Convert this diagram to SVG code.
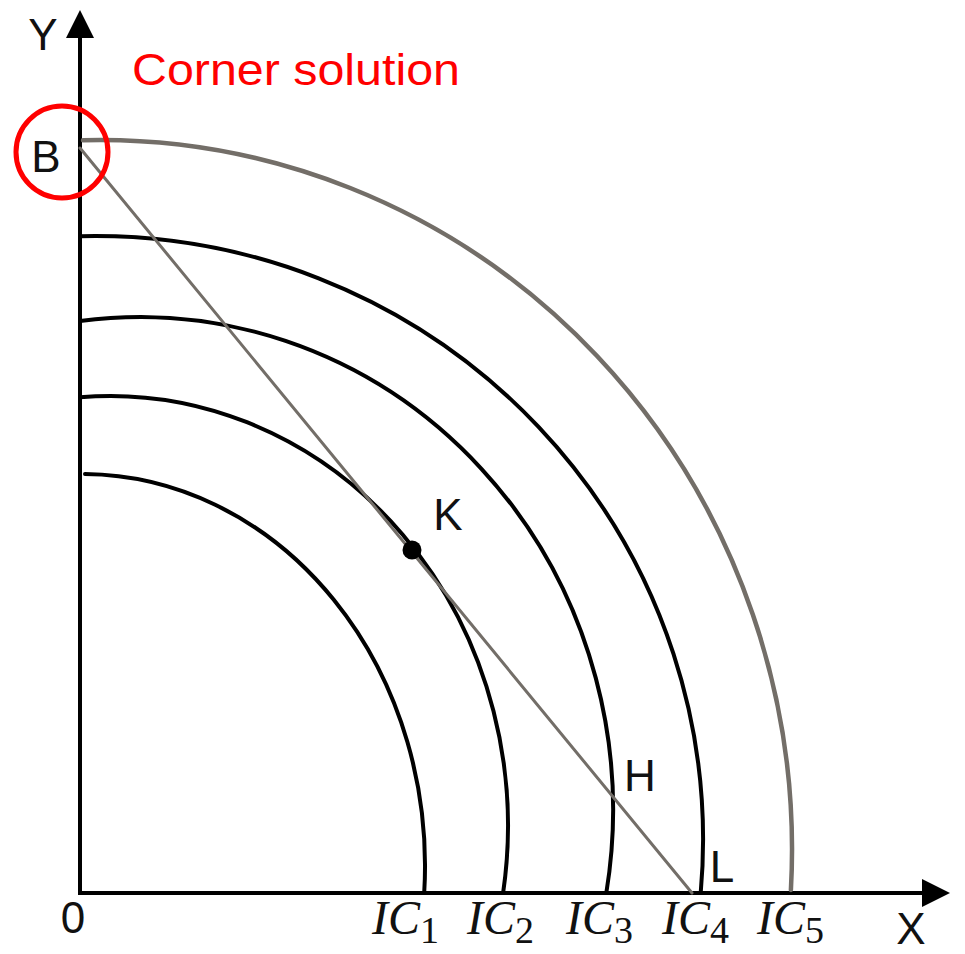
<svg xmlns="http://www.w3.org/2000/svg" width="965" height="954" viewBox="0 0 965 954">
  <style>
    .lbl { font-family: "Liberation Sans", Arial, sans-serif; font-size: 44px; fill: #111; }
    .ic { fill: none; stroke: #000; stroke-width: 4; stroke-linecap: round; }
    .gray { fill: none; stroke: #736e68; stroke-linecap: round; }
    .icl { font-family: "Liberation Serif", "Times New Roman", serif; font-size: 48px; font-style: italic; fill: #111; }
    .sub { font-style: normal; font-size: 38px; }
    .axis { stroke: #000; stroke-width: 4; fill: none; }
  </style>
  <rect width="965" height="954" fill="#fff"/>

  <g id="axes">
    <line class="axis" x1="80" y1="893" x2="80" y2="36"/>
    <polygon points="66,38 94,38 80,10" fill="#000"/>
    <line class="axis" x1="78" y1="893" x2="924" y2="893"/>
    <polygon points="922,879 922,907 950,893" fill="#000"/>
    <text class="lbl" x="43" y="50" text-anchor="middle">Y</text>
    <text class="lbl" x="911" y="944" text-anchor="middle">X</text>
    <text class="lbl" x="73" y="933" text-anchor="middle">0</text>
  </g>

  <g id="IC1">
    <path class="ic" d="M85,474 A343,392 0 0 1 424.2,893"/>
    <text class="icl" x="372" y="934">IC<tspan class="sub" dy="9">1</tspan></text>
  </g>
  <g id="IC2">
    <path class="ic" d="M80,397.2 A398,430 0 0 1 503.1,893"/>
    <text class="icl" x="467" y="934">IC<tspan class="sub" dy="9">2</tspan></text>
  </g>
  <g id="IC3">
    <path class="ic" d="M80,321 A473,493 0 0 1 606.3,893"/>
    <text class="icl" x="566" y="934">IC<tspan class="sub" dy="9">3</tspan></text>
  </g>
  <g id="IC4">
    <path class="ic" d="M80,236.2 A608,604 0 0 1 700.7,893"/>
    <text class="icl" x="662" y="934">IC<tspan class="sub" dy="9">4</tspan></text>
  </g>
  <g id="IC5">
    <path class="gray" stroke-width="4.5" d="M83,140.2 A692,710 0 0 1 790.9,890"/>
    <text class="icl" x="757" y="934">IC<tspan class="sub" dy="9">5</tspan></text>
  </g>

  <g id="connectors">
    <line id="budget-line" class="gray" stroke-width="3" x1="80" y1="148" x2="692" y2="893"/>
  </g>

  <g id="B">
    <text class="lbl" x="46" y="172" text-anchor="middle">B</text>
    <circle cx="62" cy="152" r="46" fill="none" stroke="#ff0000" stroke-width="5"/>
  </g>
  <g id="K">
    <circle cx="412" cy="550" r="9.5" fill="#000"/>
    <text class="lbl" x="448" y="530" text-anchor="middle">K</text>
  </g>
  <g id="H">
    <text class="lbl" x="640" y="791" text-anchor="middle">H</text>
  </g>
  <g id="L">
    <text class="lbl" x="722" y="882" text-anchor="middle">L</text>
  </g>
  <g id="title">
    <text x="132" y="85" font-family="'Liberation Sans', Arial, sans-serif" font-size="45" fill="#ff0000" textLength="328" lengthAdjust="spacingAndGlyphs">Corner solution</text>
  </g>
</svg>
